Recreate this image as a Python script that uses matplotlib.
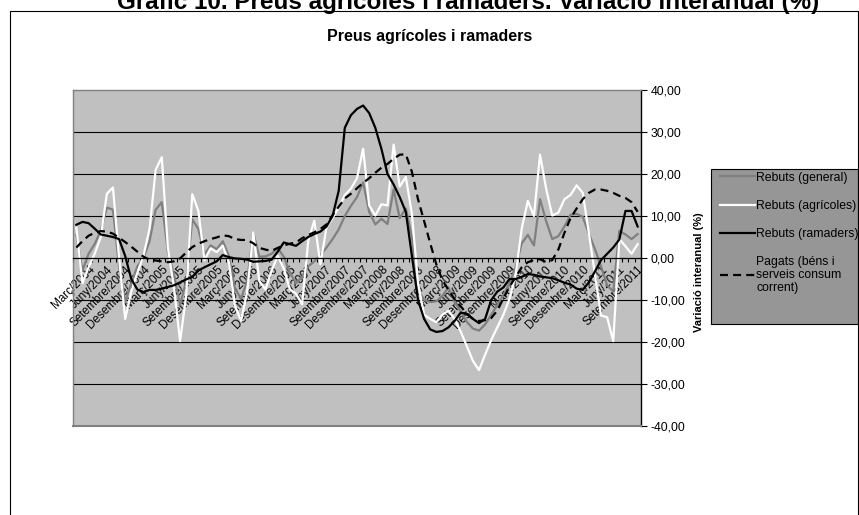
import matplotlib.pyplot as plt
from matplotlib.ticker import FuncFormatter
from matplotlib.patches import Rectangle

plt.rcParams['font.family'] = 'Liberation Sans'

mesos = ['Gener', 'Febrer', 'Març', 'Abril', 'Maig', 'Juny', 'Juliol', 'Agost',
         'Setembre', 'Octubre', 'Novembre', 'Desembre']
# gener 2004 - setembre 2011
periodes = [f'{m}/{a}' for a in range(2004, 2012) for m in mesos][:93]

rebuts_general = [
    5.5, -3.0, 1.0, 3.3, 6.5, 12.0, 11.5, -2.0, -10.5, -6.0,
    -2.0, 0.0, 4.0, 11.5, 13.3, 1.5, -4.0, -11.2, -5.5, 9.2,
    6.9, 0.8, 3.0, 2.1, 4.0, 0.5, -7.4, -9.6, -5.5, 6.0,
    0.3, 0.4, 1.0, 2.4, 0.3, -3.5, -6.0, -4.5, -2.0, -0.8,
    0.6, 2.5, 4.5, 6.8, 10.0, 12.4, 14.5, 18.0, 11.0, 8.0,
    9.3, 8.1, 16.3, 9.5, 11.8, 5.0, -7.5, -10.0, -10.5, -10.3,
    -9.0, -7.0, -10.5, -12.7, -15.2, -16.8, -17.3, -15.8, -13.5, -11.2,
    -8.8, -6.0, -2.2, 3.5, 5.5, 3.0, 14.0, 8.8, 4.5, 5.2,
    7.5, 10.3, 10.5, 9.8, 5.8, 2.1, -2.0, -6.5, -8.0, 6.5,
    5.6, 4.5, 5.7]

rebuts_agricoles = [
    7.3, -6.0, -2.2, 1.0, 5.0, 15.3, 16.8, 0.0, -14.5, -8.0,
    -3.5, 0.5, 7.0, 21.0, 24.0, 2.5, -7.0, -19.8, -9.0, 15.2,
    11.2, -0.5, 2.3, 1.4, 2.9, -1.0, -11.4, -15.0, -8.0, 6.1,
    -5.5, -7.5, -3.0, 0.5, -2.5, -7.5, -8.5, -11.0, 4.0, 8.9,
    -1.5, 7.3, 9.5, 12.0, 15.0, 16.5, 19.0, 26.0, 12.5, 10.1,
    12.8, 12.5, 27.0, 17.0, 19.3, 10.5, -6.0, -13.5, -14.5, -15.3,
    -13.5, -12.5, -14.5, -17.5, -21.0, -24.5, -26.7, -23.0, -19.5, -16.5,
    -13.5, -9.7, -4.0, 7.0, 13.6, 10.0, 24.6, 16.5, 10.1, 10.8,
    14.0, 15.0, 17.3, 15.5, 6.0, -4.0, -13.7, -14.1, -19.8, 4.5,
    2.8, 1.0, 3.3]

rebuts_ramaders = [
    7.9, 8.6, 8.3, 7.0, 5.6, 5.3, 5.0, 4.5, 0.5, -5.0,
    -7.5, -8.1, -7.6, -7.6, -7.3, -6.9, -6.5, -5.8, -5.1, -4.5,
    -3.0, -2.2, -1.5, -0.8, 0.7, 0.2, -0.1, -0.2, -0.4, -0.9,
    -0.8, -0.7, -0.4, 1.5, 3.7, 3.3, 2.9, 4.0, 5.0, 5.7,
    6.3, 7.5, 10.0, 16.0, 31.0, 34.0, 35.5, 36.3, 34.5, 31.0,
    26.0, 20.0, 17.5, 14.5, 11.0, 0.5, -10.0, -14.5, -17.0, -17.6,
    -17.4, -16.5, -15.0, -13.0, -13.3, -14.5, -15.5, -14.5, -10.0, -8.0,
    -7.0, -5.0, -5.0, -4.5, -3.8, -4.0, -4.4, -4.6, -4.8, -5.3,
    -5.9, -6.3, -7.3, -7.6, -5.8, -3.2, -0.5, 1.0, 2.5, 4.4,
    11.2, 11.2, 7.5]

pagats = [
    2.5, 4.0, 5.3, 6.0, 6.4, 6.3, 5.8, 4.8, 3.8, 2.7,
    1.5, 0.3, -0.4, -0.6, -0.8, -1.0, -0.8, -0.1, 1.3, 2.6,
    3.4, 4.0, 4.5, 4.9, 5.4, 5.2, 4.5, 4.3, 4.3, 3.5,
    2.4, 2.0, 1.7, 2.4, 3.0, 3.4, 3.7, 4.7, 5.5, 6.1,
    6.9, 8.0, 10.2, 12.2, 14.2, 15.3, 16.6, 17.9, 19.0, 20.3,
    21.5, 22.4, 23.6, 24.6, 24.7, 20.5, 14.0, 8.8, 3.5, -1.5,
    -5.3, -7.6, -9.8, -11.5, -13.3, -14.5, -15.0, -14.8, -14.3, -12.5,
    -9.6, -6.8, -4.6, -2.2, -1.0, -0.5, -0.3, -1.0, -0.5, 2.0,
    6.0, 9.5, 11.8, 14.0, 15.5, 16.3, 16.3, 16.0, 15.5, 14.8,
    14.3, 13.3, 11.0]

x = list(range(len(periodes)))
idx_etiq = [i for i, p in enumerate(periodes) if p.split('/')[0] in ('Març', 'Juny', 'Setembre', 'Desembre')]

fig = plt.figure(figsize=(8.59, 5.15), dpi=100)
W, H = 859, 515
pl, pr, pt, pb = 73.3, 640.7, 90, 426
ax = fig.add_axes([pl / W, 1 - pb / H, (pr - pl) / W, (pb - pt) / H])
ax.set_facecolor('#C0C0C0')

for y in [-30, -20, -10, 10, 20, 30]:
    ax.axhline(y, color='black', lw=0.8, zorder=1)

ax.plot(x, rebuts_general, color='#808080', lw=1.6, label='Rebuts (general)', zorder=2)
ax.plot(x, rebuts_agricoles, color='white', lw=1.6, label='Rebuts (agrícoles)', zorder=2)
ax.plot(x, rebuts_ramaders, color='black', lw=1.6, label='Rebuts (ramaders)', zorder=2)
ax.plot(x, pagats, color='black', lw=1.6, linestyle=(0, (3.6, 2.3)),
        label='Pagats (béns i\nserveis consum\ncorrent)', zorder=2)

ax.set_xlim(-0.5, len(periodes) - 0.5)
ax.set_ylim(-40, 40)

# marc de l'àrea de traçat
for s in ['left', 'top']:
    ax.spines[s].set_color('#808080')
    ax.spines[s].set_linewidth(1.0)
ax.spines['right'].set_color('black')
ax.spines['right'].set_linewidth(1.0)
ax.spines['bottom'].set_position(('data', 0))
ax.spines['bottom'].set_color('black')
ax.spines['bottom'].set_linewidth(0.9)
ax.axhline(-40, color='#808080', lw=1.5, clip_on=False, zorder=3)

# eix y a la dreta
ax.yaxis.tick_right()
ax.yaxis.set_label_position('right')
ax.set_yticks(range(-40, 41, 10))
ax.yaxis.set_major_formatter(FuncFormatter(lambda v, p: f'{v:.2f}'.replace('.', ',')))
ax.tick_params(axis='y', direction='out', length=4, width=0.8, labelsize=8.7, pad=3)
ax.set_ylabel('Variació interanual (%)', fontsize=8, fontweight='bold')
ax.yaxis.set_label_coords(1.094, 0.457)

# eix x sobre la línia de zero
ax.set_xticks(idx_etiq)
ax.set_xticklabels([periodes[i] for i in idx_etiq], rotation=45, ha='right',
                   va='top', rotation_mode='anchor', fontsize=8.5)
ax.tick_params(axis='x', which='major', length=0, pad=4)
ax.set_xticks([i - 0.5 for i in range(len(periodes) + 1)], minor=True)
ax.tick_params(axis='x', which='minor', direction='out', length=3, width=0.8)

# llegenda
fig.patches.append(Rectangle((711 / W, 1 - 324 / H), (858 - 711) / W, (324 - 169) / H,
                             transform=fig.transFigure, facecolor='#969696',
                             edgecolor='black', lw=0.8, zorder=-1))
leg = ax.legend(loc='upper left', bbox_to_anchor=(716 / W, 1 - 168 / H),
                bbox_transform=fig.transFigure, fontsize=8.8, frameon=False,
                borderpad=0.3, borderaxespad=0,
                handlelength=2.9, handletextpad=0.1, labelspacing=1.33)
for t in leg.get_texts():
    t.set_linespacing(1.06)

fig.text(430 / W, 1 - 37 / H, 'Preus agrícoles i ramaders', ha='center', va='center',
         fontsize=11.5, fontweight='bold')

fig.text(468 / W, 1 - 9.5 / H, 'Gràfic 10. Preus agrícoles i ramaders. Variació interanual (%)',
         ha='center', va='baseline', fontsize=17.5, fontweight='bold')

fig.patches.append(Rectangle((10 / W, -0.01), (858 - 10) / W, (H - 11) / H + 0.01,
                             transform=fig.transFigure, fill=False,
                             edgecolor='black', lw=0.8))

fig.savefig('out.png', dpi=100)
